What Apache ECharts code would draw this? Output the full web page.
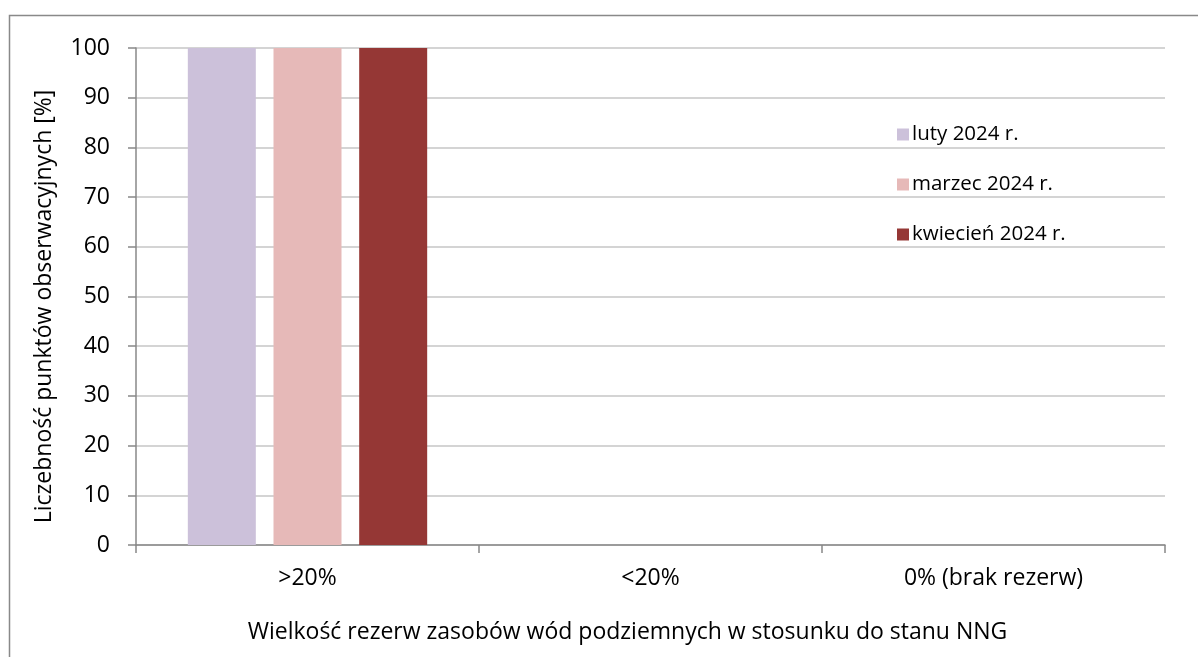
<!DOCTYPE html>
<html>
<head>
<meta charset="utf-8">
<script src="https://cdn.jsdelivr.net/npm/echarts@6/dist/echarts.min.js"></script>
<style>
  html, body { margin: 0; padding: 0; background: #fff; }
  #chart-wrapper { width: 1198px; height: 657px; }
</style>
</head>
<body>
<div id="chart-wrapper"></div>
<script>
// data
const categories = [">20%", "<20%", "0% (brak rezerw)"];
const seriesNames = ["luty 2024 r.", "marzec 2024 r.", "kwiecień 2024 r."];
const luty = [100, 0, 0];
const marzec = [100, 0, 0];
const kwiecien = [100, 0, 0];
const yTicks = { min: 0, max: 100, interval: 10 };

const COLORS = ["#CCC1DA", "#E6B9B8", "#953735"];
const FONT = "Open Sans";

let chart;

const init_handler = () => {
  const chartDom = document.getElementById("chart-wrapper");
  chart = echarts.init(chartDom, null, { renderer: "canvas" });

  const values = [luty, marzec, kwiecien];
  const series = seriesNames.map((name, i) => ({
    name: name,
    type: "bar",
    data: values[i],
    barWidth: 68,
    barGap: "26%",
    itemStyle: { color: COLORS[i] },
  }));

  const option = {
    animation: false,
    backgroundColor: "#fff",
    textStyle: { fontFamily: FONT },
    graphic: [
      {
        type: "rect",
        shape: { x: 9.5, y: 15.5, width: 1200, height: 700 },
        style: { fill: "none", stroke: "#898989", lineWidth: 1.5 },
        silent: true,
      },
    ],
    grid: { left: 136, top: 48, right: 33, bottom: 112 },
    legend: {
      orient: "vertical",
      left: 892,
      top: 119,
      itemWidth: 12,
      itemHeight: 12,
      itemGap: 29,
      icon: "rect",
      textStyle: { fontFamily: FONT, fontSize: 20.5, color: "#000", padding: [0, 0, 0, -2] },
      data: seriesNames,
    },
    xAxis: {
      type: "category",
      data: categories,
      name: "Wielkość rezerw zasobów wód podziemnych w stosunku do stanu NNG",
      nameLocation: "middle",
      nameGap: 76,
      // title sits a little left of the plot centre in the original
      nameTextStyle: { fontFamily: FONT, fontSize: 23, color: "#000", padding: [0, 46, 0, 0] },
      axisLine: { lineStyle: { color: "#888", width: 1.5 } },
      axisTick: { show: true, length: 8, lineStyle: { color: "#888", width: 1.5 } },
      axisLabel: { margin: 22, fontFamily: FONT, fontSize: 23, color: "#000" },
    },
    yAxis: {
      type: "value",
      min: yTicks.min,
      max: yTicks.max,
      interval: yTicks.interval,
      name: "Liczebność punktów obserwacyjnych [%]",
      nameLocation: "middle",
      nameGap: 80,
      nameTextStyle: { fontFamily: FONT, fontSize: 23, color: "#000", padding: [0, 20, 0, 0] },
      axisLine: { show: true, lineStyle: { color: "#888", width: 1.5 } },
      axisTick: { show: true, length: 8, lineStyle: { color: "#888", width: 1.5 } },
      axisLabel: { margin: 26, fontFamily: FONT, fontSize: 23, color: "#000" },
      splitLine: { lineStyle: { color: "#c6c6c6", width: 1.5 } },
    },
    series: series,
  };
  chart.setOption(option);
};

window.onload = init_handler;
</script>
</body>
</html>
